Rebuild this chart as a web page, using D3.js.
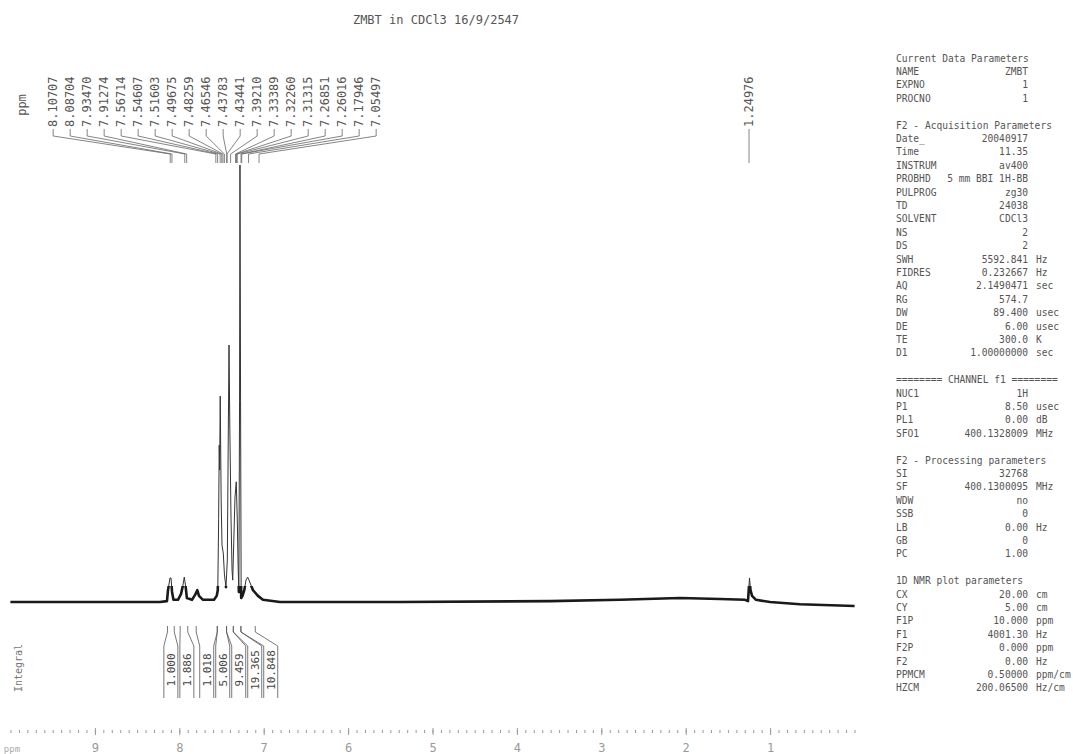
<!DOCTYPE html>
<html>
<head>
<meta charset="utf-8">
<script src="https://cdn.jsdelivr.net/npm/d3@7"></script>
<style>
  body { margin: 0; background: #fff; }
  text { font-family: "DejaVu Sans Mono", monospace; }
</style>
</head>
<body>
<div id="chart"></div>
<script>
// spectrum trace (ppm, relative intensity)
const ppm = [10.0, 8.94, 8.229, 8.146, 8.134, 8.110, 8.098, 8.086, 8.069, 8.016, 7.980, 7.956, 7.941, 7.927, 7.910,
  7.850, 7.808, 7.787, 7.767, 7.719, 7.589, 7.557, 7.544, 7.534, 7.527, 7.522, 7.515, 7.504, 7.494, 7.479, 7.465,
  7.447, 7.431, 7.421, 7.411, 7.401, 7.387, 7.375, 7.367, 7.354, 7.340, 7.325, 7.313, 7.302, 7.294, 7.286, 7.281,
  7.274, 7.267, 7.251, 7.230, 7.210, 7.190, 7.174, 7.127, 7.068, 7.009, 6.807, 5.385, 3.608, 2.779, 2.068, 1.594,
  1.297, 1.262, 1.244, 1.232, 1.214, 1.167, 1.001, 0.646, 0.0];
const intensity = [0, 0, 0, 0.2, 2.7, 5.5, 5.5, 2.3, 0.5, 0.5, 1.8, 3.9, 5.7, 3.9, 0.9,
  0.5, 1.8, 2.7, 1.4, 0.5, 0.5, 1.4, 2.7, 18.8, 35.9, 30.2, 47.1, 23.3, 13.0, 11.2, 6.2,
  3.4, 9.6, 34.8, 58.8, 39.4, 18.8, 7.3, 5.0, 14.2, 24.0, 27.5, 18.8, 7.3, 2.3, 46.2, 100,
  46.2, 0.9, 1.4, 2.7, 5.0, 5.7, 5.0, 2.7, 1.4, 0.5, 0, 0, 0.2, 0.5, 0.9, 0.7,
  0.5, 0.2, 5.5, 2.7, 1.4, 0.5, 0, -0.5, -0.9];

// picked peaks
const peakPpm = [8.10707, 8.08704, 7.93470, 7.91274, 7.56714, 7.54607, 7.51603, 7.49675, 7.48259, 7.46546,
  7.43783, 7.43441, 7.39210, 7.33389, 7.32260, 7.31315, 7.26851, 7.26016, 7.17946, 7.05497];
const singlePeak = 1.24976;

// integrals
const integralValues = ["1.000", "1.886", "1.018", "5.006", "9.459", "19.365", "10.848"];
const integralFrom = [8.14, 7.99, 7.80, 7.55, 7.44, 7.36, 7.27];
const integralTo = [8.06, 7.90, 7.55, 7.44, 7.36, 7.27, 7.10];

const tickLabels = [9, 8, 7, 6, 5, 4, 3, 2, 1];

const title = "ZMBT in CDCl3 16/9/2547";

// parameter block: [name, value, unit]; a single string is a heading, null is a gap
const paramLines = [
  "Current Data Parameters",
  ["NAME", "ZMBT", ""], ["EXPNO", "1", ""], ["PROCNO", "1", ""],
  null,
  "F2 - Acquisition Parameters",
  ["Date_", "20040917", ""], ["Time", "11.35", ""], ["INSTRUM", "av400", ""],
  ["PROBHD", "5 mm BBI 1H-BB", ""], ["PULPROG", "zg30", ""], ["TD", "24038", ""],
  ["SOLVENT", "CDCl3", ""], ["NS", "2", ""], ["DS", "2", ""], ["SWH", "5592.841", "Hz"],
  ["FIDRES", "0.232667", "Hz"], ["AQ", "2.1490471", "sec"], ["RG", "574.7", ""],
  ["DW", "89.400", "usec"], ["DE", "6.00", "usec"], ["TE", "300.0", "K"], ["D1", "1.00000000", "sec"],
  null,
  "======== CHANNEL f1 ========",
  ["NUC1", "1H", ""], ["P1", "8.50", "usec"], ["PL1", "0.00", "dB"], ["SFO1", "400.1328009", "MHz"],
  null,
  "F2 - Processing parameters",
  ["SI", "32768", ""], ["SF", "400.1300095", "MHz"], ["WDW", "no", ""], ["SSB", "0", ""],
  ["LB", "0.00", "Hz"], ["GB", "0", ""], ["PC", "1.00", ""],
  null,
  "1D NMR plot parameters",
  ["CX", "20.00", "cm"], ["CY", "5.00", "cm"], ["F1P", "10.000", "ppm"], ["F1", "4001.30", "Hz"],
  ["F2P", "0.000", "ppm"], ["F2", "0.00", "Hz"], ["PPMCM", "0.50000", "ppm/cm"], ["HZCM", "200.06500", "Hz/cm"]
];

const width = 1073, height = 754;
const ink = "#1a1a1a", txt = "#555";

const svg = d3.select("#chart").append("svg")
  .attr("width", width).attr("height", height)
  .style("background", "#fff");

const x = d3.scaleLinear().domain([10, 0]).range([10.5, 854.5]);
const y = d3.scaleLinear().domain([0, 100]).range([602, 165]);

// title
svg.append("text").attr("x", 436).attr("y", 24)
  .attr("text-anchor", "middle").style("font-size", "12px").attr("fill", txt)
  .text(title);

// spectrum
const spec = d3.zip(ppm, intensity);
const line = d3.line().x(d => x(d[0])).y(d => y(d[1]));

svg.append("clipPath").attr("id", "base")
  .append("rect").attr("x", 0).attr("y", 586).attr("width", 860).attr("height", 30);

svg.append("path").datum(spec).attr("d", line)
  .attr("fill", "none").attr("stroke", "#333").attr("stroke-width", 1);
// noisy baseline looks thick and dark
svg.append("path").datum(spec).attr("d", line)
  .attr("clip-path", "url(#base)")
  .attr("fill", "none").attr("stroke", ink).attr("stroke-width", 2.6)
  .attr("stroke-linejoin", "round");

// peak labels
svg.append("text").attr("transform", "translate(22,105) rotate(-90)")
  .attr("text-anchor", "middle").attr("dy", "0.35em")
  .style("font-size", "12px").attr("fill", txt).text("ppm");

const gap = 17;
const mid = (x(peakPpm[0]) + x(peakPpm[peakPpm.length - 1])) / 2;
const labelX = (d, i) => mid + (i - (peakPpm.length - 1) / 2) * gap;

const pk = svg.append("g");
pk.selectAll("path").data(peakPpm).join("path")
  .attr("d", (d, i) => `M${labelX(d, i)},129V136L${x(d)},154V163`)
  .attr("fill", "none").attr("stroke", "#666").attr("stroke-width", 0.8);
pk.selectAll("text").data(peakPpm).join("text")
  .attr("transform", (d, i) => `translate(${labelX(d, i)},127) rotate(-90)`)
  .attr("dy", "0.35em").style("font-size", "12px").attr("fill", txt)
  .text(d => d.toFixed(5));

svg.append("path").attr("d", `M${x(singlePeak)},129V163`)
  .attr("stroke", "#666").attr("stroke-width", 0.8);
svg.append("text").attr("transform", `translate(${x(singlePeak)},127) rotate(-90)`)
  .attr("dy", "0.35em").style("font-size", "12px").attr("fill", txt)
  .text(singlePeak.toFixed(5));

// integrals, boxes pushed right when they would overlap
const boxGap = 16, boxW = 14;
const centers = [];
integralValues.forEach((v, i) => {
  const c = (x(integralFrom[i]) + x(integralTo[i])) / 2;
  centers.push(i ? Math.max(c, centers[i - 1] + boxGap) : c);
});

const ig = svg.append("g");
ig.selectAll("path").data(integralValues).join("path")
  .attr("d", (d, i) => {
    const a = x(integralFrom[i]), b = x(integralTo[i]), c = centers[i];
    return `M${a},626V632L${c - boxW / 2},646V698M${b},626V632L${c + boxW / 2},646V698`;
  })
  .attr("fill", "none").attr("stroke", "#555").attr("stroke-width", 0.8);
ig.selectAll("text").data(integralValues).join("text")
  .attr("transform", (d, i) => `translate(${centers[i]},670) rotate(-90)`)
  .attr("text-anchor", "middle").attr("dy", "0.35em")
  .style("font-size", "11px").attr("fill", "#444")
  .text(d => d);

svg.append("text").attr("transform", "translate(18,668) rotate(-90)")
  .attr("text-anchor", "middle").attr("dy", "0.35em")
  .style("font-size", "10px").attr("fill", "#777").text("Integral");

// ppm ruler
const minor = svg.append("g").attr("transform", "translate(0,730)")
  .call(d3.axisBottom(x).tickValues(d3.range(0, 101).map(i => i / 10)).tickSize(3).tickFormat(""));
const major = svg.append("g").attr("transform", "translate(0,728)")
  .call(d3.axisBottom(x).tickValues(tickLabels).tickSize(7).tickPadding(8).tickFormat(d3.format("d")));
[minor, major].forEach(g => {
  g.select(".domain").remove();
  g.selectAll("line").attr("stroke", "#999");
  g.selectAll("text").style("font-size", "12px").attr("fill", "#999")
    .style("font-family", "'DejaVu Sans Mono', monospace");
});
svg.append("text").attr("x", 12).attr("y", 752).attr("text-anchor", "middle")
  .style("font-size", "9px").attr("fill", "#aaa").text("ppm");

// parameter panel
const panel = svg.append("g").style("font-size", "9.6px").attr("fill", txt);
paramLines.forEach((p, i) => {
  if (p === null) return;
  const yy = 58 + i * 13.4 + 3.5;
  if (typeof p === "string") {
    panel.append("text").attr("x", 896).attr("y", yy).text(p);
    return;
  }
  panel.append("text").attr("x", 896).attr("y", yy).text(p[0]);
  panel.append("text").attr("x", 1028).attr("y", yy).attr("text-anchor", "end").text(p[1]);
  if (p[2]) panel.append("text").attr("x", 1036).attr("y", yy).text(p[2]);
});
</script>
</body>
</html>
